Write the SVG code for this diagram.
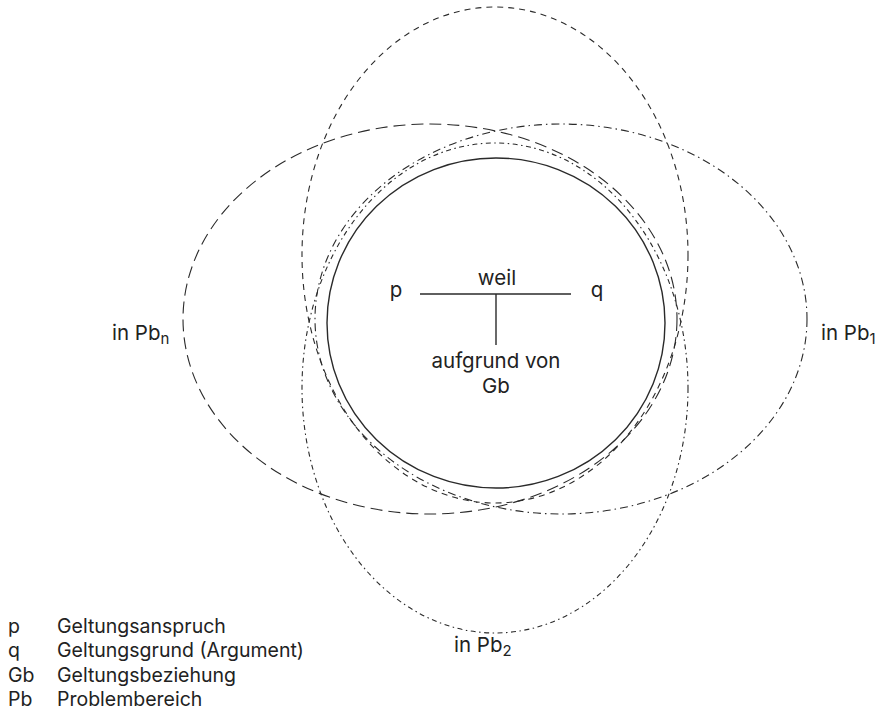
<svg xmlns="http://www.w3.org/2000/svg" width="884" height="712" viewBox="0 0 884 712">
  <style>
    .txt { font-family: Inter, "Noto Sans", sans-serif; font-size: 20.5px; fill: #222; }
    .legend { font-size: 19.5px; }
    .mid { text-anchor: middle; }
    .sub { font-size: 15px; }
    .ring { fill: none; stroke: #2a2a2a; stroke-width: 1.1; }
    .core { stroke-width: 1.4; }
    .dash-short { stroke-dasharray: 6 5; }
    .dash-long { stroke-dasharray: 12 6; }
    .dash-dot { stroke-dasharray: 8 4 1.5 4; }
    .dash-dot-fine { stroke-dasharray: 5 3.5 1.5 3.5; }
    .stem { stroke: #2a2a2a; stroke-width: 1.4; }
  </style>

  <!-- problem areas (Problembereiche) -->
  <g id="pb-top">
    <ellipse class="ring dash-short" cx="495" cy="255" rx="193" ry="248"/>
  </g>
  <g id="pb-n">
    <ellipse class="ring dash-long" cx="430" cy="319" rx="247" ry="195"/>
    <text class="txt" x="112" y="340">in Pb<tspan class="sub" dy="4">n</tspan></text>
  </g>
  <g id="pb-1">
    <ellipse class="ring dash-dot" cx="561" cy="319" rx="246" ry="195"/>
    <text class="txt" x="821" y="340">in Pb<tspan class="sub" dy="4">1</tspan></text>
  </g>
  <g id="pb-2">
    <ellipse class="ring dash-dot-fine" cx="495" cy="388" rx="193" ry="245"/>
    <text class="txt" x="454" y="652">in Pb<tspan class="sub" dy="4">2</tspan></text>
  </g>

  <!-- validity relation in the core circle -->
  <g id="core">
    <ellipse class="ring core" cx="496" cy="323" rx="169" ry="165"/>
  </g>
  <g id="node-p">
    <text class="txt mid" x="396" y="297">p</text>
  </g>
  <g id="node-q">
    <text class="txt mid" x="597" y="297">q</text>
  </g>
  <g id="node-weil">
    <text class="txt mid" x="497" y="285">weil</text>
  </g>
  <g id="node-gb">
    <text class="txt mid" x="496" y="368">aufgrund von</text>
    <text class="txt mid" x="496" y="393">Gb</text>
  </g>
  <g id="connectors">
    <line class="stem" x1="420" y1="294" x2="571" y2="294"/>
    <line class="stem" x1="496" y1="294" x2="496" y2="345"/>
  </g>

  <!-- legend -->
  <g id="legend" class="txt legend">
    <text x="8" y="633">p</text><text x="57" y="633">Geltungsanspruch</text>
    <text x="8" y="657">q</text><text x="57" y="657">Geltungsgrund (Argument)</text>
    <text x="8" y="681.5">Gb</text><text x="57" y="681.5">Geltungsbeziehung</text>
    <text x="8" y="706">Pb</text><text x="57" y="706">Problembereich</text>
  </g>
</svg>
